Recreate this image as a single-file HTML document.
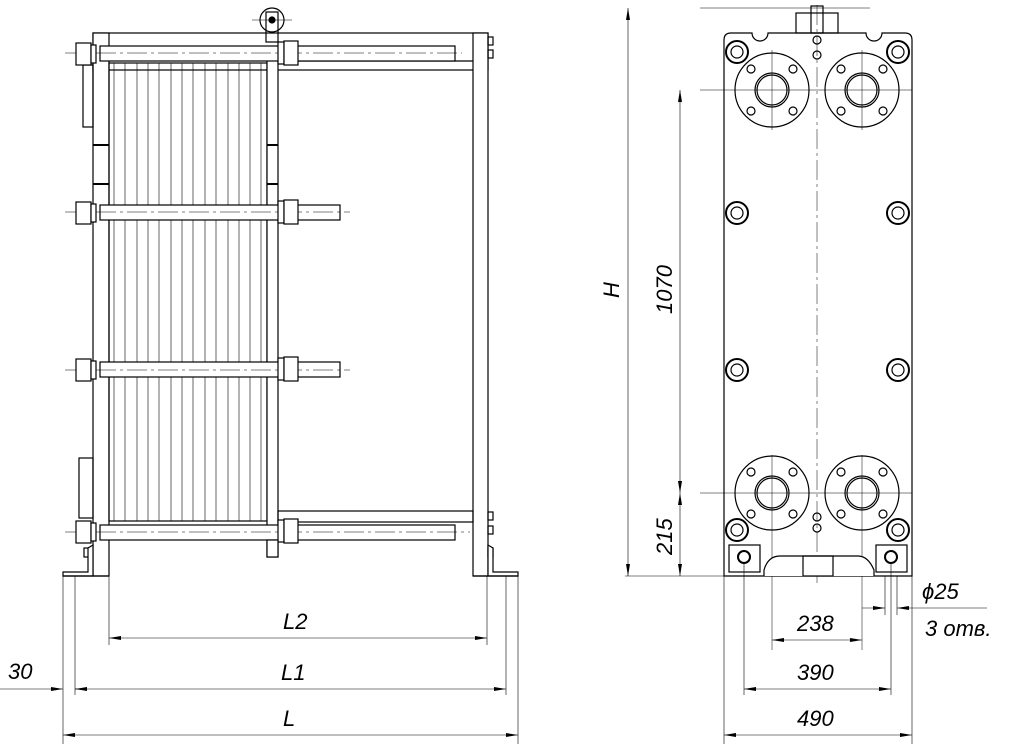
<!DOCTYPE html>
<html><head><meta charset="utf-8"><style>
html,body{margin:0;padding:0;background:#fff;}
svg{display:block}
text{font-family:"Liberation Sans",sans-serif;font-style:italic;font-size:22px;fill:#000}
</style></head><body>
<svg width="1024" height="744" viewBox="0 0 1024 744" xmlns="http://www.w3.org/2000/svg">
<defs>
<marker id="a" viewBox="0 0 12 4" refX="12" refY="2" markerWidth="12" markerHeight="4" orient="auto-start-reverse" markerUnits="userSpaceOnUse"><path d="M0,0 L12,2 L0,4z" fill="#000"/></marker>
</defs>
<g stroke="#000" fill="none" stroke-width="1.2">
<!-- LEFT VIEW -->
<!-- top frame bar -->
<rect x="93" y="33" width="395" height="37" fill="#fff"/>
<line x1="278" y1="61" x2="473" y2="61"/>
<!-- fixed plate -->
<rect x="93" y="33" width="16" height="543" fill="#fff"/>
<!-- plates -->
<rect x="109" y="63" width="158" height="458"/>
<g stroke-width="0.6">
<line x1="114" y1="63" x2="114" y2="521"/><line x1="125" y1="63" x2="125" y2="521"/><line x1="137" y1="63" x2="137" y2="521"/><line x1="148" y1="63" x2="148" y2="521"/><line x1="159" y1="63" x2="159" y2="521"/><line x1="171" y1="63" x2="171" y2="521"/><line x1="182" y1="63" x2="182" y2="521"/><line x1="193" y1="63" x2="193" y2="521"/><line x1="205" y1="63" x2="205" y2="521"/><line x1="216" y1="63" x2="216" y2="521"/><line x1="228" y1="63" x2="228" y2="521"/><line x1="239" y1="63" x2="239" y2="521"/><line x1="250" y1="63" x2="250" y2="521"/><line x1="261" y1="63" x2="261" y2="521"/>
</g>
<!-- pressure plate -->
<rect x="267" y="60" width="11" height="497" fill="#fff"/>
<line x1="93" y1="145" x2="109" y2="145" stroke-width="2"/><line x1="93" y1="184" x2="109" y2="184" stroke-width="2"/>
<line x1="267" y1="145" x2="278" y2="145" stroke-width="2"/><line x1="267" y1="184" x2="278" y2="184" stroke-width="2"/>
<!-- right column -->
<rect x="473" y="33" width="15" height="543" fill="#fff"/>
<!-- lower guide bar -->
<rect x="278" y="511" width="195" height="11"/>
<!-- hanger -->
<circle cx="272" cy="20" r="12" fill="#fff"/><rect x="266" y="12" width="12" height="30"/><circle cx="272" cy="20" r="3" fill="#000"/>
<line x1="252" y1="20" x2="292" y2="20" stroke-width="0.5"/>
<!-- left side brackets -->
<rect x="83" y="65" width="10" height="62"/><rect x="79" y="458" width="14" height="60"/>
<!-- bolts: rods -->
<rect x="100" y="46" width="355" height="15" fill="#fff"/>
<rect x="100" y="205" width="240" height="15" fill="#fff"/>
<rect x="100" y="362" width="240" height="15" fill="#fff"/>
<rect x="100" y="525" width="355" height="15" fill="#fff"/>
<g stroke-width="0.5" stroke-dasharray="20,4,3,4">
<line x1="65" y1="53" x2="462" y2="53"/><line x1="65" y1="212" x2="350" y2="212"/><line x1="65" y1="370" x2="350" y2="370"/><line x1="65" y1="532" x2="470" y2="532"/>
</g>
<!-- nuts -->
<g fill="#fff">
<rect x="76" y="43" width="15" height="22"/><rect x="91" y="45" width="5" height="18"/>
<rect x="76" y="202" width="15" height="22"/><rect x="91" y="204" width="5" height="18"/>
<rect x="76" y="359" width="15" height="22"/><rect x="91" y="361" width="5" height="18"/>
<rect x="76" y="521" width="15" height="22"/><rect x="91" y="523" width="5" height="18"/>
<rect x="278" y="42" width="6" height="22"/><rect x="284" y="41" width="14" height="24"/>
<rect x="278" y="201" width="6" height="22"/><rect x="284" y="200" width="14" height="24"/>
<rect x="278" y="358" width="6" height="22"/><rect x="284" y="357" width="14" height="24"/>
<rect x="278" y="520" width="6" height="22"/><rect x="284" y="519" width="14" height="24"/>
</g>
<rect x="267" y="540" width="11" height="17" fill="#fff"/>
<!-- small bolts on column -->
<rect x="488" y="37" width="5" height="8"/><rect x="488" y="50" width="5" height="8"/>
<rect x="488" y="512" width="5" height="8"/><rect x="488" y="526" width="5" height="8"/>
<rect x="84" y="548" width="6" height="9"/><rect x="488" y="548" width="5" height="9"/>
<!-- feet -->
<path d="M63,576 L63,572 L88,572 L88,548 L93,545 L93,576 Z" fill="#fff"/>
<path d="M518,576 L518,572 L493,572 L493,548 L488,545 L488,576 Z" fill="#fff"/>
<line x1="63" y1="576" x2="109" y2="576"/><line x1="473" y1="576" x2="518" y2="576"/>

<!-- RIGHT VIEW -->
<path d="M731,33 L752,33 A8,8 0 0 0 768,33 L866,33 A8,8 0 0 0 882,33 L905,33 Q912,33 912,40 L912,576 L724,576 L724,40 Q724,33 731,33 Z" fill="#fff"/>
<rect x="796" y="13" width="42" height="20"/><rect x="811" y="6" width="12" height="27"/>
<circle cx="817" cy="40" r="4"/><circle cx="817" cy="55" r="4"/>
<circle cx="817" cy="517" r="4"/><circle cx="817" cy="528" r="4"/>
<g stroke-width="0.5">
<line x1="817" y1="5" x2="817" y2="585" stroke-dasharray="20,4,3,4"/>
<line x1="700" y1="90" x2="912" y2="90"/><line x1="700" y1="493" x2="912" y2="493"/>
<line x1="772" y1="50" x2="772" y2="130"/><line x1="862" y1="50" x2="862" y2="130"/>
<line x1="772" y1="455" x2="772" y2="650"/><line x1="862" y1="455" x2="862" y2="650"/>
<line x1="700" y1="8" x2="870" y2="8"/>
<line x1="625" y1="576" x2="724" y2="576"/>
</g>
<!-- flanges -->
<g>
<circle cx="772" cy="90" r="37"/><circle cx="772" cy="90" r="17"/><circle cx="772" cy="90" r="15"/>
<circle cx="862" cy="90" r="37"/><circle cx="862" cy="90" r="17"/><circle cx="862" cy="90" r="15"/>
<circle cx="772" cy="493" r="37"/><circle cx="772" cy="493" r="17"/><circle cx="772" cy="493" r="15"/>
<circle cx="862" cy="493" r="37"/><circle cx="862" cy="493" r="17"/><circle cx="862" cy="493" r="15"/>
<circle cx="751" cy="69" r="4"/><circle cx="793" cy="69" r="4"/><circle cx="751" cy="111" r="4"/><circle cx="793" cy="111" r="4"/>
<circle cx="841" cy="69" r="4"/><circle cx="883" cy="69" r="4"/><circle cx="841" cy="111" r="4"/><circle cx="883" cy="111" r="4"/>
<circle cx="751" cy="472" r="4"/><circle cx="793" cy="472" r="4"/><circle cx="751" cy="514" r="4"/><circle cx="793" cy="514" r="4"/>
<circle cx="841" cy="472" r="4"/><circle cx="883" cy="472" r="4"/><circle cx="841" cy="514" r="4"/><circle cx="883" cy="514" r="4"/>
</g>
<!-- corner bolts -->
<g fill="#fff">
<circle cx="737" cy="52" r="11" stroke-width="2"/><circle cx="737" cy="52" r="6"/>
<circle cx="898" cy="52" r="11" stroke-width="2"/><circle cx="898" cy="52" r="6"/>
<circle cx="737" cy="213" r="11" stroke-width="2"/><circle cx="737" cy="213" r="6"/>
<circle cx="898" cy="213" r="11" stroke-width="2"/><circle cx="898" cy="213" r="6"/>
<circle cx="737" cy="370" r="11" stroke-width="2"/><circle cx="737" cy="370" r="6"/>
<circle cx="898" cy="370" r="11" stroke-width="2"/><circle cx="898" cy="370" r="6"/>
<circle cx="737" cy="530" r="11" stroke-width="2"/><circle cx="737" cy="530" r="6"/>
<circle cx="898" cy="530" r="11" stroke-width="2"/><circle cx="898" cy="530" r="6"/>
</g>
<!-- bottom feet on right view -->
<rect x="729" y="545" width="31" height="27"/><circle cx="744" cy="557" r="6" stroke-width="2"/>
<rect x="876" y="545" width="31" height="27"/><circle cx="891" cy="557" r="6" stroke-width="2"/>
<path d="M764,576 L764,570 Q768,556 780,556 L858,556 Q868,556 874,570 L874,576" fill="#fff"/>
<rect x="803" y="556" width="30" height="20"/>
<!-- DIMENSIONS -->
<g stroke-width="0.6">
<line x1="63" y1="576" x2="63" y2="744"/><line x1="75" y1="576" x2="75" y2="695"/>
<line x1="109" y1="576" x2="109" y2="645"/><line x1="487" y1="576" x2="487" y2="645"/>
<line x1="506" y1="576" x2="506" y2="695"/><line x1="518" y1="576" x2="518" y2="744"/>
<line x1="109" y1="638" x2="487" y2="638" marker-start="url(#a)" marker-end="url(#a)"/>
<line x1="75" y1="689" x2="506" y2="689" marker-start="url(#a)" marker-end="url(#a)"/>
<line x1="63" y1="735" x2="518" y2="735" marker-start="url(#a)" marker-end="url(#a)"/>
<line x1="0" y1="689" x2="63" y2="689" marker-end="url(#a)"/>
<line x1="75" y1="689" x2="80" y2="689"/>
<line x1="628" y1="8" x2="628" y2="576" marker-start="url(#a)" marker-end="url(#a)"/>
<line x1="680" y1="90" x2="680" y2="493" marker-start="url(#a)" marker-end="url(#a)"/>
<line x1="680" y1="493" x2="680" y2="576" marker-start="url(#a)" marker-end="url(#a)"/>
<line x1="724" y1="576" x2="724" y2="744"/><line x1="912" y1="576" x2="912" y2="744"/>
<line x1="744" y1="563" x2="744" y2="695"/><line x1="891" y1="563" x2="891" y2="695"/>
<line x1="772" y1="640" x2="862" y2="640" marker-start="url(#a)" marker-end="url(#a)"/>
<line x1="744" y1="689" x2="891" y2="689" marker-start="url(#a)" marker-end="url(#a)"/>
<line x1="724" y1="735" x2="912" y2="735" marker-start="url(#a)" marker-end="url(#a)"/>
<line x1="885" y1="576" x2="885" y2="615"/><line x1="897" y1="576" x2="897" y2="615"/>
<line x1="862" y1="608" x2="885" y2="608" marker-end="url(#a)"/>
<line x1="987" y1="608" x2="897" y2="608" marker-end="url(#a)"/>
</g>
</g>
<text x="283" y="629">L2</text>
<text x="281" y="680">L1</text>
<text x="283" y="726">L</text>
<text x="8" y="679">30</text>
<text x="797" y="631">238</text>
<text x="797" y="680">390</text>
<text x="797" y="726">490</text>
<text x="922" y="599">ϕ25</text>
<text x="925" y="636">3 отв.</text>
<text transform="translate(619,298) rotate(-90)">H</text>
<text transform="translate(672,314) rotate(-90)">1070</text>
<text transform="translate(672,555) rotate(-90)">215</text>
</svg>
</body></html>
